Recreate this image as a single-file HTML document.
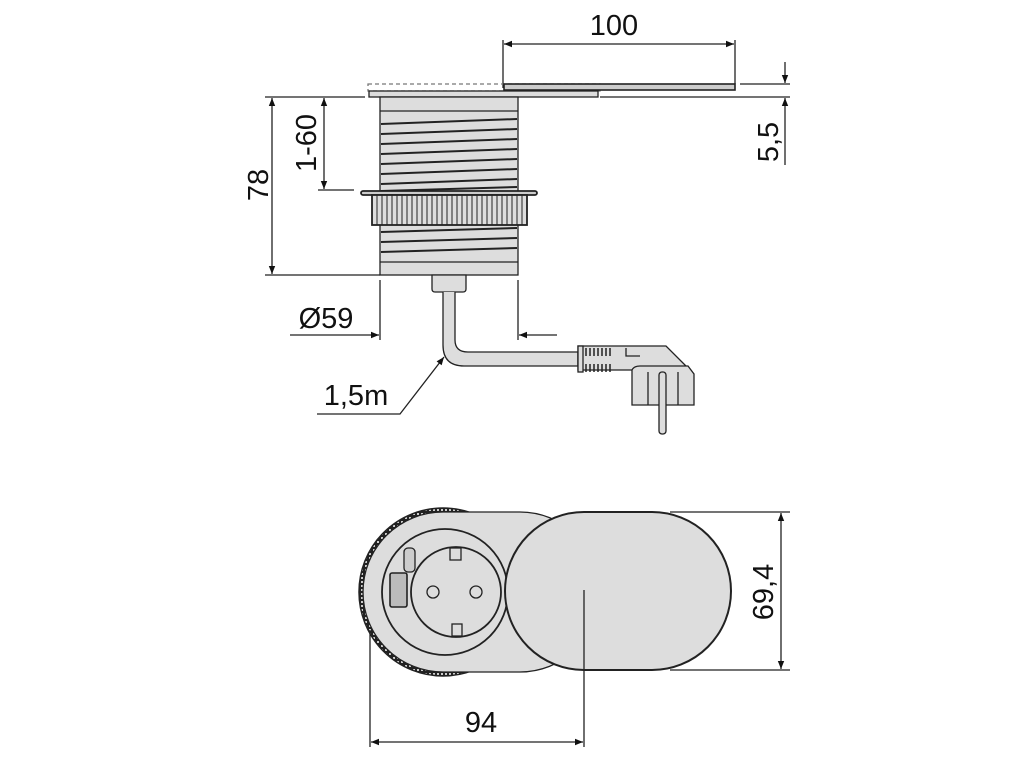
<!DOCTYPE html>
<html><head><meta charset="utf-8"><style>
html,body{margin:0;padding:0;background:#fff;}
svg{display:block;}
text{font-family:"Liberation Sans",sans-serif;fill:#111;}
</style></head><body>
<svg width="1024" height="768" viewBox="0 0 1024 768" xmlns="http://www.w3.org/2000/svg">
<defs>
<marker id="a" viewBox="0 0 10 10" refX="10" refY="5" markerWidth="10" markerHeight="8" orient="auto-start-reverse" markerUnits="userSpaceOnUse"><path d="M0,1 L10,5 L0,9 z" fill="#111"/></marker>
<pattern id="knurl" width="4" height="4" patternUnits="userSpaceOnUse"><rect width="4" height="4" fill="#222"/><rect x="1" y="1" width="2" height="2" fill="#ccc"/></pattern>
</defs>
<g stroke="#222" stroke-width="1.3" fill="none">
<!-- dimension 100 -->
<line x1="503" y1="40" x2="503" y2="88"/><line x1="735" y1="40" x2="735" y2="84"/>
<line x1="504" y1="44" x2="734" y2="44" marker-start="url(#a)" marker-end="url(#a)"/>
<!-- plate & lid -->
<rect x="368" y="84" width="232" height="7" stroke-dasharray="4,3" stroke="#777"/>
<rect x="369" y="91" width="229" height="6" fill="#ddd"/>
<rect x="504" y="84" width="231" height="6" fill="#ccc" stroke-width="1.6"/>
<!-- 5,5 -->
<line x1="740" y1="84" x2="790" y2="84"/><line x1="600" y1="97" x2="790" y2="97"/>
<line x1="785" y1="62" x2="785" y2="83" marker-end="url(#a)"/>
<line x1="785" y1="165" x2="785" y2="98" marker-end="url(#a)"/>
<!-- 78 -->
<line x1="265" y1="97" x2="365" y2="97"/><line x1="265" y1="275" x2="380" y2="275"/>
<line x1="272" y1="98" x2="272" y2="274" marker-start="url(#a)" marker-end="url(#a)"/>
<!-- 1-60 -->
<line x1="318" y1="190" x2="354" y2="190"/>
<line x1="324" y1="98" x2="324" y2="189" marker-start="url(#a)" marker-end="url(#a)"/>
<!-- body -->
<rect x="380" y="97" width="138" height="178" fill="#ddd"/>
<line x1="380" y1="111" x2="518" y2="111"/>
<g stroke-width="2">
<path d="M381 124 L517 119 M381 134 L517 129 M381 144 L517 139 M381 154 L517 149 M381 164 L517 159 M381 174 L517 169 M381 184 L517 179 M381 191 L517 187"/>
<path d="M381 232 L517 228 M381 242 L517 238 M381 252 L517 248"/>
</g>
<line x1="380" y1="262" x2="518" y2="262"/>
<rect x="361" y="191" width="176" height="4" rx="2" fill="#ccc" stroke-width="1.8"/>
<rect x="372" y="195" width="155" height="30" fill="#ddd" stroke-width="1.8"/>
<g stroke-width="1">
<path d="M377 195v30M382 195v30M387 195v30M392 195v30M397 195v30M402 195v30M407 195v30M412 195v30M417 195v30M422 195v30M427 195v30M432 195v30M437 195v30M442 195v30M447 195v30M452 195v30M457 195v30M462 195v30M467 195v30M472 195v30M477 195v30M482 195v30M487 195v30M492 195v30M497 195v30M502 195v30M507 195v30M512 195v30M517 195v30M522 195v30"/>
</g>
<!-- cable -->
<path d="M432 275 h34 v14 q0 3 -3 3 h-28 q-3 0 -3 -3z" fill="#ddd"/>
<path d="M443 292 V345 Q443 366 464 366 H578 V352 H468 Q455 352 455 340 V292" fill="#ddd"/>
<!-- Ø59 -->
<line x1="380" y1="280" x2="380" y2="340"/><line x1="518" y1="280" x2="518" y2="340"/>
<line x1="290" y1="335" x2="379" y2="335" marker-end="url(#a)"/>
<line x1="557" y1="335" x2="519" y2="335" marker-end="url(#a)"/>
<!-- 1,5m leader -->
<polyline points="317,414 400,414 444,357" marker-end="url(#a)"/>
<!-- plug -->
<path d="M578 346 H666 L690 370 H578 Z" fill="#ddd"/>
<rect x="578" y="346" width="5" height="26" fill="#ddd"/>
<path d="M586 348 v8 M590 348 v8 M594 348 v8 M598 348 v8 M602 348 v8 M606 348 v8 M610 348 v8 M586 364 v8 M590 364 v8 M594 364 v8 M598 364 v8 M602 364 v8 M606 364 v8 M610 364 v8" stroke-width="1.5"/>
<path d="M626 348 v8 h14"/>
<path d="M632 370 Q634 366 640 366 H688 L694 374 V405 H632 Z" fill="#ddd"/>
<path d="M648 372 V405 M678 372 V405"/>
<rect x="659" y="372" width="7" height="62" rx="3" fill="#ddd"/>

<!-- bottom view -->
<circle cx="443" cy="592" r="84" fill="url(#knurl)" stroke="#222" stroke-width="1.5"/>
<path d="M443 512 H520 A80 80 0 0 1 520 672 H443 A80 80 0 0 1 443 512 Z" fill="#ddd"/>
<circle cx="445" cy="592" r="63" fill="#ddd" stroke-width="1.8"/>
<circle cx="456" cy="592" r="45" fill="#ddd" stroke-width="1.8"/>
<circle cx="433" cy="592" r="6"/><circle cx="476" cy="592" r="6"/>
<rect x="450" y="548" width="11" height="12" fill="#ddd"/>
<rect x="452" y="624" width="10" height="12" fill="#ddd"/>
<rect x="404" y="548" width="11" height="24" rx="4" fill="#ccc"/>
<rect x="390" y="573" width="17" height="34" rx="2" fill="#bbb" stroke-width="1.6"/>
<path d="M584 512 H652 A79 79 0 0 1 652 670 H584 A79 79 0 0 1 584 512 Z" fill="#ddd" stroke-width="2"/>
<!-- 69,4 -->
<line x1="670" y1="512" x2="790" y2="512"/><line x1="670" y1="670" x2="790" y2="670"/>
<line x1="781" y1="513" x2="781" y2="669" marker-start="url(#a)" marker-end="url(#a)"/>
<!-- 94 -->
<line x1="370" y1="630" x2="370" y2="747"/><line x1="584" y1="590" x2="584" y2="747"/>
<line x1="371" y1="742" x2="583" y2="742" marker-start="url(#a)" marker-end="url(#a)"/>
</g>
<text x="614" y="35" font-size="29" text-anchor="middle">100</text>
<text transform="translate(778,142) rotate(-90)" font-size="29" text-anchor="middle">5,5</text>
<text transform="translate(268,185) rotate(-90)" font-size="29" text-anchor="middle">78</text>
<text transform="translate(316,143) rotate(-90)" font-size="29" text-anchor="middle">1-60</text>
<text x="326" y="328" font-size="29" text-anchor="middle">Ø59</text>
<text x="356" y="405" font-size="29" text-anchor="middle">1,5m</text>
<text transform="translate(773,592) rotate(-90)" font-size="29" text-anchor="middle">69,4</text>
<text x="481" y="732" font-size="29" text-anchor="middle">94</text>
</svg>
</body></html>
